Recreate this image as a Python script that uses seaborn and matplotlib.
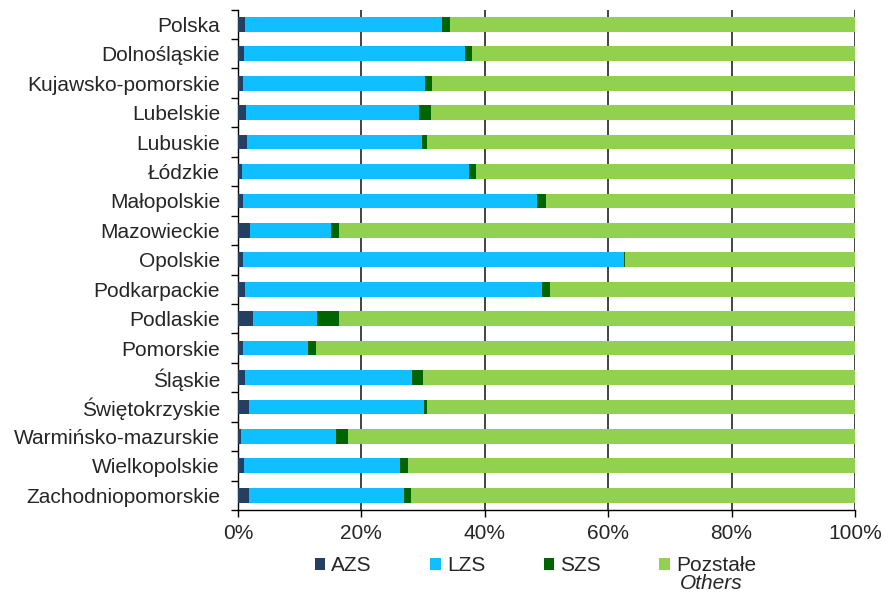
import numpy as np
import pandas as pd
import matplotlib
matplotlib.use("Agg")
import matplotlib.pyplot as plt
import seaborn as sns
from matplotlib.patches import Patch
from matplotlib.ticker import FixedLocator, PercentFormatter

regions = [
    "Polska", "Dolnośląskie", "Kujawsko-pomorskie", "Lubelskie", "Lubuskie",
    "Łódzkie", "Małopolskie", "Mazowieckie", "Opolskie", "Podkarpackie",
    "Podlaskie", "Pomorskie", "Śląskie", "Świętokrzyskie",
    "Warmińsko-mazurskie", "Wielkopolskie", "Zachodniopomorskie",
]
azs = [1.1, 1.0, 0.8, 1.3, 1.4, 0.7, 0.8, 2.0, 0.8, 1.1, 2.5, 0.8, 1.1, 1.8, 0.5, 1.0, 1.8]
lzs = [31.9, 35.8, 29.5, 28.0, 28.4, 36.7, 47.6, 13.1, 61.7, 48.1, 10.3, 10.6, 27.1, 28.3, 15.4, 25.2, 25.1]
szs = [1.3, 1.2, 1.1, 1.9, 0.8, 1.1, 1.5, 1.2, 0.2, 1.4, 3.5, 1.2, 1.7, 0.6, 1.9, 1.3, 1.1]

series = ["AZS", "LZS", "SZS", "Pozstałe"]
colors = ["#243f60", "#10bfff", "#006400", "#92d050"]

df = pd.DataFrame({"region": regions, "AZS": azs, "LZS": lzs, "SZS": szs})
df["Pozstałe"] = 100 - df[["AZS", "LZS", "SZS"]].sum(axis=1)
cum = df[series].cumsum(axis=1)
cum["region"] = df["region"]

sns.set_style("white")
plt.rcParams["font.family"] = ["Liberation Sans", "DejaVu Sans"]

fig = plt.figure(figsize=(8.85, 6), dpi=100)
ax = fig.add_axes([0.269, 0.15, 0.697, 0.834])

# draw cumulative totals from the widest down so every segment shows
for name, color in reversed(list(zip(series, colors))):
    sns.barplot(data=cum, x=name, y="region", orient="h", color=color,
                width=0.5, saturation=1, linewidth=0, ax=ax, zorder=3)

ax.set_xlim(0, 100)
ax.set_ylim(len(regions) - 0.5, -0.5)
ax.xaxis.set_major_locator(FixedLocator([0, 20, 40, 60, 80, 100]))
ax.xaxis.set_major_formatter(PercentFormatter(decimals=0))
ax.set_xlabel("")
ax.set_ylabel("")

ax.grid(axis="x", color="#111111", linewidth=1.1, zorder=0)
ax.set_axisbelow(True)
for s in ["top", "right"]:
    ax.spines[s].set_visible(False)
for s in ["left", "bottom"]:
    ax.spines[s].set_color("black")
    ax.spines[s].set_linewidth(1.0)

ax.tick_params(axis="y", which="major", left=False, length=0, pad=13, labelsize=15)
ax.yaxis.set_minor_locator(FixedLocator(np.arange(-0.5, len(regions), 1.0)))
ax.tick_params(axis="y", which="minor", left=True, length=5, width=1,
               direction="out", color="black")
ax.tick_params(axis="x", which="major", bottom=True, length=5, width=1,
               direction="out", color="black", labelsize=15, pad=5)

handles = [Patch(facecolor=c, edgecolor="none") for c in colors]
leg = fig.legend(handles, series, loc="center", bbox_to_anchor=(0.605, 0.057),
                 ncol=4, frameon=False, fontsize=15, handlelength=0.5,
                 handleheight=0.5, handletextpad=0.3, columnspacing=2.8)

fig.canvas.draw()
bb = leg.get_texts()[-1].get_window_extent()
x0, y0 = fig.transFigure.inverted().transform((bb.x0 + 4, bb.y0))
fig.text(x0, y0 + 0.002, "Others", fontsize=15, style="italic", ha="left", va="top")

fig.savefig("out.png", dpi=100)
